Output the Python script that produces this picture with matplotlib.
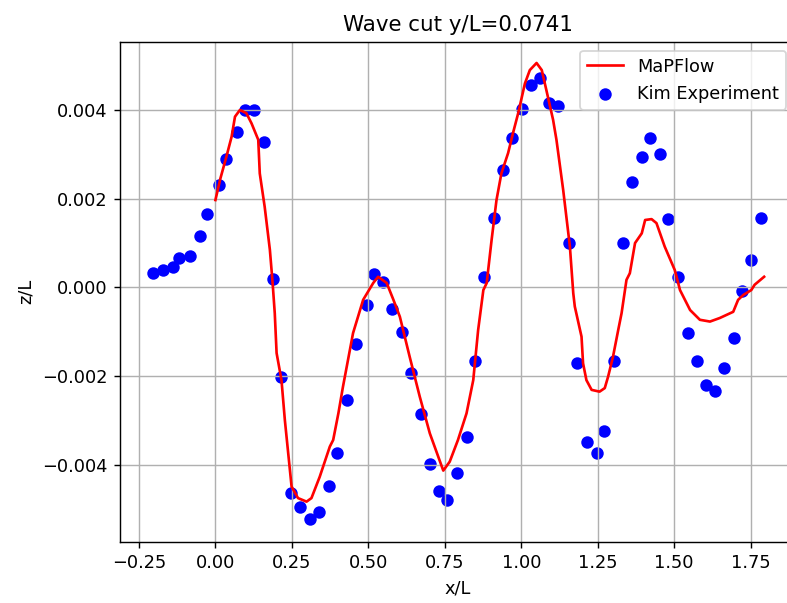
import numpy as np
import matplotlib
matplotlib.use("Agg")
import matplotlib.pyplot as plt

# MaPFlow computed wave elevation along the cut
line_x = [0.000, 0.016, 0.036, 0.053, 0.064, 0.080, 0.101, 0.118, 0.140, 0.145,
          0.161, 0.178, 0.187, 0.194, 0.200, 0.216, 0.227, 0.238, 0.249, 0.270,
          0.298, 0.314, 0.341, 0.374, 0.385, 0.402, 0.417, 0.450, 0.483, 0.516,
          0.532, 0.560, 0.582, 0.603, 0.635, 0.668, 0.701, 0.745, 0.766, 0.793,
          0.821, 0.843, 0.859, 0.876, 0.887, 0.903, 0.919, 0.935, 0.957, 0.973,
          0.990, 1.012, 1.028, 1.050, 1.067, 1.082, 1.104, 1.115, 1.137, 1.159,
          1.170, 1.175, 1.197, 1.202, 1.213, 1.230, 1.256, 1.273, 1.284, 1.300,
          1.317, 1.328, 1.344, 1.355, 1.372, 1.394, 1.405, 1.426, 1.442, 1.469,
          1.502, 1.519, 1.552, 1.584, 1.617, 1.649, 1.693, 1.709, 1.726, 1.752,
          1.763, 1.794]
line_z = [0.00197, 0.00245, 0.00295, 0.00340, 0.00385, 0.00400, 0.00393, 0.00370, 0.00333, 0.00257,
          0.00182, 0.00085, 0.00010, -0.00058, -0.00148, -0.00209, -0.00299, -0.00374, -0.00449, -0.00475,
          -0.00483, -0.00475, -0.00427, -0.00359, -0.00344, -0.00284, -0.00224, -0.00103, -0.00028, 0.00010,
          0.00024, 0.00010, -0.00028, -0.00066, -0.00156, -0.00246, -0.00329, -0.00413, -0.00393, -0.00344,
          -0.00284, -0.00209, -0.00096, -0.00006, 0.00010, 0.00107, 0.00197, 0.00257, 0.00303, 0.00348,
          0.00393, 0.00460, 0.00490, 0.00506, 0.00490, 0.00445, 0.00378, 0.00333, 0.00220, 0.00092,
          -0.00013, -0.00043, -0.00111, -0.00171, -0.00209, -0.00231, -0.00235, -0.00227, -0.00201, -0.00156,
          -0.00096, -0.00058, 0.00017, 0.00032, 0.00100, 0.00122, 0.00152, 0.00154, 0.00145, 0.00092,
          0.00039, -0.00006, -0.00051, -0.00073, -0.00077, -0.00069, -0.00055, -0.00028, -0.00017, -0.00006,
          0.00006, 0.00024]

# Kim experiment measurements
exp_x = [-0.204, -0.171, -0.140, -0.118, -0.083, -0.051, -0.026, 0.011, 0.036, 0.069,
         0.097, 0.127, 0.158, 0.189, 0.216, 0.246, 0.277, 0.309, 0.339, 0.371,
         0.396, 0.430, 0.461, 0.494, 0.519, 0.549, 0.576, 0.611, 0.639, 0.671,
         0.701, 0.732, 0.757, 0.790, 0.821, 0.848, 0.878, 0.911, 0.940, 0.971,
         1.004, 1.031, 1.061, 1.091, 1.120, 1.156, 1.183, 1.214, 1.246, 1.271,
         1.304, 1.333, 1.361, 1.394, 1.422, 1.453, 1.480, 1.513, 1.544, 1.575,
         1.605, 1.633, 1.663, 1.695, 1.723, 1.752, 1.783]
exp_z = [0.00032, 0.00039, 0.00046, 0.00066, 0.00071, 0.00115, 0.00165, 0.00230, 0.00290, 0.00351,
         0.00399, 0.00399, 0.00327, 0.00020, -0.00203, -0.00463, -0.00496, -0.00522, -0.00507, -0.00448,
         -0.00374, -0.00254, -0.00128, -0.00039, 0.00030, 0.00012, -0.00048, -0.00101, -0.00194, -0.00286,
         -0.00398, -0.00458, -0.00479, -0.00418, -0.00337, -0.00165, 0.00024, 0.00156, 0.00265, 0.00336,
         0.00402, 0.00457, 0.00472, 0.00415, 0.00408, 0.00100, -0.00171, -0.00348, -0.00374, -0.00323,
         -0.00166, 0.00100, 0.00237, 0.00295, 0.00336, 0.00301, 0.00154, 0.00024, -0.00103, -0.00167,
         -0.00221, -0.00233, -0.00181, -0.00113, -0.00007, 0.00062, 0.00157]

fig = plt.figure(figsize=(787 / 128, 603 / 128), dpi=128)
ax = fig.add_axes([120 / 787, 1 - 542 / 603, 675 / 787, 500.3 / 603])

ax.plot(line_x, line_z, color='r', label='MaPFlow')
ax.scatter(exp_x, exp_z, color='b', label='Kim Experiment')

ax.set_xlim(-0.312, 1.895)
ax.set_ylim(-0.00574, 0.00554)
ax.set_xlabel("x/L")
ax.set_ylabel("z/L")
ax.set_title("Wave cut y/L=0.0741")
ax.legend(loc='upper right')
ax.grid(True)

fig.savefig("out.png", dpi=128)
